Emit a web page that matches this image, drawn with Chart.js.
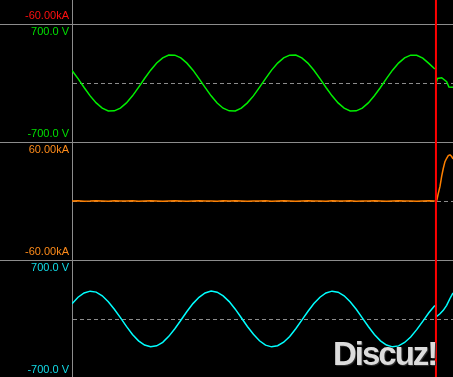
<!DOCTYPE html>
<html>
<head>
<meta charset="utf-8">
<script src="https://cdn.jsdelivr.net/npm/chart.js@4.4.1/dist/chart.umd.min.js"></script>
<style>
  html, body { margin: 0; padding: 0; background: #000; }
  #scope { position: relative; width: 453px; height: 377px; overflow: hidden; background: #000; }
  .sep { position: absolute; left: 0; width: 453px; height: 1px; background: #8c8c8c; z-index: 0; }
  .panel { position: absolute; left: 0; width: 453px; height: 118px; z-index: 1; }
  #mark {
    position: absolute; left: 333px; top: 337px; z-index: 3;
    font: bold 33px "Liberation Sans", Arial, sans-serif; line-height: 1;
    letter-spacing: -2px; color: #dcdcdc; text-shadow: 1px 1px 1px #333;
  }
</style>
</head>
<body>
<div id="scope">
  <div class="sep" style="top:24px"></div>
  <div class="sep" style="top:142px"></div>
  <div class="sep" style="top:260px"></div>
  <div class="panel" style="top:-94px"><canvas id="chartTop"></canvas></div>
  <div class="panel" style="top:24px"><canvas id="chartVa"></canvas></div>
  <div class="panel" style="top:142px"><canvas id="chartIa"></canvas></div>
  <div class="panel" style="top:260px"><canvas id="chartVc"></canvas></div>
  <div id="mark">Discuz!</div>
</div>
<script>
// time in ms, one sample per ms before the fault
const sampleTimes = [
    0, 1, 2, 3, 4, 5, 6, 7, 8, 9, 10, 11, 12, 13, 14, 15, 16, 17, 18, 19,
    20, 21, 22, 23, 24, 25, 26, 27, 28, 29, 30, 31, 32, 33, 34, 35, 36, 37, 38, 39,
    40, 41, 42, 43, 44, 45, 46, 47, 48, 49, 50, 51, 52, 53, 54, 55, 56, 57, 58, 59,
    60,
];

// green trace (V)
const voltageA = [
    172, 60, -61, -176, -272, -343, -381, -380, -342, -272, -175, -59, 61, 175, 273, 343, 381, 380, 343, 271,
    175, 59, -60, -175, -273, -344, -380, -381, -343, -271, -176, -60, 60, 176, 272, 342, 380, 381, 342, 272,
    174, 60, -61, -175, -272, -343, -381, -380, -343, -272, -174, -61, 60, 175, 272, 343, 380, 378, 340, 268,
    190,
];

// orange trace (kA)
const currentA = [
    0, 0.3, -0.2, 0, 0.4, 0, -0.3, 0.2, 0, 0, 0.3, -0.2, 0, 0.2, 0, -0.3, 0, 0.3, 0, -0.2,
    0, 0.2, 0, 0, -0.3, 0.2, 0, 0.3, 0, -0.2, 0, 0, 0.3, -0.2, 0, 0.2, 0, -0.3, 0, 0.2,
    0, 0, -0.2, 0.3, 0, 0, 0.2, -0.3, 0, 0, 0.3, 0, -0.2, 0, 0.2, 0, 0, -0.3, 0, 0.2,
    0,
];

// cyan trace (V)
const voltageC = [
    208, 297, 355, 380, 367, 317, 236, 133, 18, -101, -210, -298, -356, -379, -366, -318, -237, -132, -17, 103,
    210, 296, 356, 381, 366, 316, 237, 134, 17, -102, -209, -297, -357, -380, -365, -317, -238, -133, -16, 102,
    211, 297, 355, 380, 366, 317, 236, 132, 16, -103, -211, -298, -356, -380, -367, -320, -245, -145, -32, 85,
    185,
];

// after the trigger
const faultTime = 60.18;
const faultTimesVa = [60.18, 60.21, 60.43, 61.13, 61.95, 62.33, 63.0];
const faultVoltageA = [170, 0, 62, 72, 18, -55, -59];
const faultTimesIa = [60.18, 60.3, 60.57, 60.85, 61.13, 61.39, 61.67, 61.95, 62.22, 62.5, 62.78, 62.95, 63.0];
const faultCurrentA = [0, 0, 9, 17, 29, 38, 46, 50, 53, 54, 52, 50, 49];
const faultTimesVc = [60.18, 60.21, 60.4, 60.85, 61.39, 61.95, 62.5, 63.0];
const faultVoltageC = [200, 30, 41, 72, 118, 187, 280, 355];

const voltTicks = [-700, 700];
const ampTicks = [-60, 60];

const gridGray = "#8c8c8c";

function toPoints(times, values) {
    return times.map((t, i) => ({ x: t, y: values[i] }));
}

function trace(times, values, color) {
    return {
        data: toPoints(times, values),
        borderColor: color,
        borderWidth: 1.5,
        pointRadius: 0,
    };
}

function buildPanel(id, limit, ticks, formatTick, labelColor, datasets) {
    const cursor = {
        data: [{ x: faultTime, y: -limit }, { x: faultTime, y: limit }],
        borderColor: "#ff0000",
        borderWidth: 2,
        pointRadius: 0,
    };

    new Chart(document.getElementById(id), {
        type: "line",
        data: { datasets: [cursor, ...datasets] },
        options: {
            responsive: true,
            maintainAspectRatio: false,
            animation: false,
            layout: { padding: 0 },
            plugins: { legend: { display: false }, tooltip: { enabled: false } },
            scales: {
                x: { type: "linear", min: 0, max: 63, display: false },
                y: {
                    min: -limit,
                    max: limit,
                    afterBuildTicks: (axis) => {
                        axis.ticks = [ticks[0], 0, ticks[1]].map((v) => ({ value: v }));
                    },
                    afterFit: (axis) => {
                        axis.width = 72;
                        axis.paddingTop = 0;
                        axis.paddingBottom = 0;
                    },
                    ticks: {
                        color: labelColor,
                        padding: 3,
                        autoSkip: false,
                        font: { family: "Liberation Sans", size: 11 },
                        callback: (v) => (v === 0 ? "" : formatTick(v)),
                    },
                    grid: {
                        drawTicks: false,
                        lineWidth: 1,
                        color: (c) => (c.tick && c.tick.value === 0 ? gridGray : "transparent"),
                    },
                    border: { display: true, color: gridGray, width: 1, dash: [4, 3] },
                },
            },
        },
    });
}

const fmtVolt = (v) => v.toFixed(1) + " V";
const fmtAmp = (v) => v.toFixed(2) + "kA";

// panel mostly scrolled off the top
buildPanel("chartTop", 69, ampTicks, fmtAmp, "#ff1010", []);

buildPanel("chartVa", 805, voltTicks, fmtVolt, "#00e000", [
    trace(sampleTimes, voltageA, "#00f000"),
    trace(faultTimesVa, faultVoltageA, "#00f000"),
]);

buildPanel("chartIa", 69, ampTicks, fmtAmp, "#ff8c1a", [
    trace(sampleTimes, currentA, "#ff8000"),
    trace(faultTimesIa, faultCurrentA, "#ff8000"),
]);

buildPanel("chartVc", 805, voltTicks, fmtVolt, "#12dce8", [
    trace(sampleTimes, voltageC, "#00ffff"),
    trace(faultTimesVc, faultVoltageC, "#00ffff"),
]);
</script>
</body>
</html>
